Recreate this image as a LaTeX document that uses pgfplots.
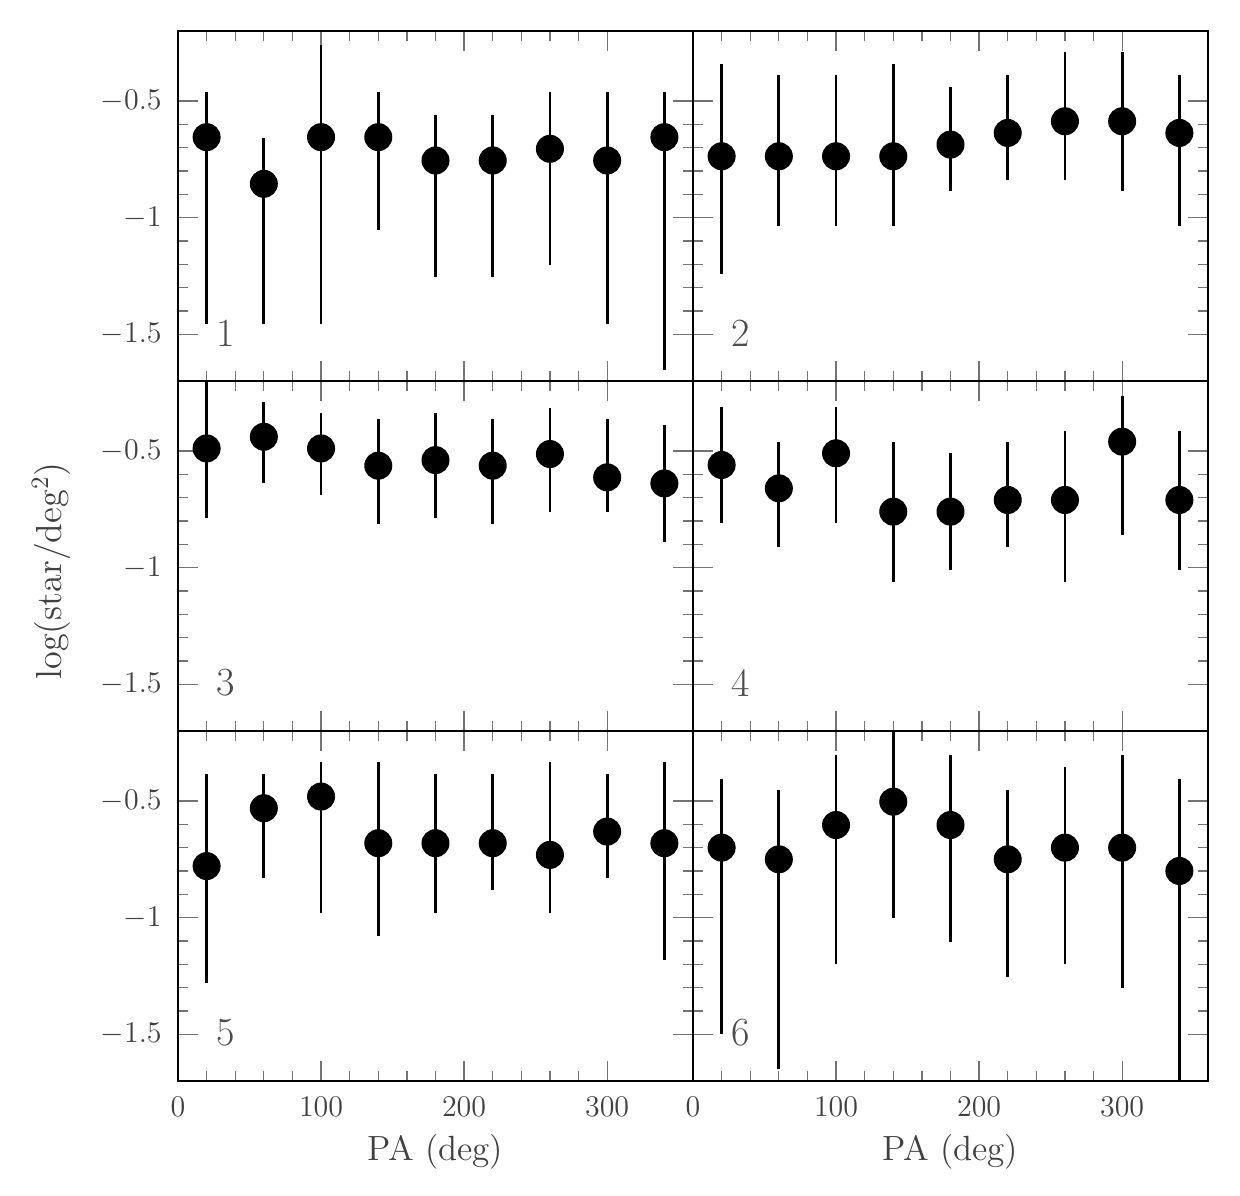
\documentclass[border=0pt]{standalone}
\usepackage{pgfplots}
\usepackage{pgfplotstable}
\pgfplotsset{compat=1.18}

\pgfplotstableread{
x y hi lo
20 -0.655 -0.46 -1.455
60 -0.855 -0.66 -1.455
100 -0.655 -0.26 -1.455
140 -0.655 -0.46 -1.055
180 -0.755 -0.56 -1.255
220 -0.755 -0.56 -1.255
260 -0.705 -0.46 -1.205
300 -0.755 -0.46 -1.455
340 -0.655 -0.46 -1.655
}\dataA
\pgfplotstableread{
x y hi lo
20 -0.737 -0.34 -1.24
60 -0.737 -0.39 -1.037
100 -0.737 -0.39 -1.037
140 -0.737 -0.34 -1.037
180 -0.687 -0.44 -0.887
220 -0.637 -0.39 -0.84
260 -0.587 -0.29 -0.84
300 -0.587 -0.29 -0.887
340 -0.637 -0.39 -1.037
}\dataB
\pgfplotstableread{
x y hi lo
20 -0.489 -0.15 -0.786
60 -0.439 -0.289 -0.639
100 -0.489 -0.339 -0.689
140 -0.563 -0.364 -0.813
180 -0.539 -0.339 -0.786
220 -0.563 -0.364 -0.813
260 -0.513 -0.314 -0.763
300 -0.613 -0.364 -0.763
340 -0.639 -0.389 -0.889
}\dataC
\pgfplotstableread{
x y hi lo
20 -0.56 -0.313 -0.81
60 -0.66 -0.461 -0.91
100 -0.51 -0.313 -0.81
140 -0.76 -0.461 -1.06
180 -0.76 -0.51 -1.01
220 -0.71 -0.461 -0.91
260 -0.71 -0.413 -1.06
300 -0.46 -0.263 -0.86
340 -0.71 -0.413 -1.01
}\dataD
\pgfplotstableread{
x y hi lo
20 -0.779 -0.383 -1.279
60 -0.531 -0.383 -0.829
100 -0.481 -0.333 -0.979
140 -0.681 -0.333 -1.079
180 -0.681 -0.383 -0.979
220 -0.681 -0.383 -0.881
260 -0.731 -0.333 -0.979
300 -0.631 -0.383 -0.829
340 -0.681 -0.333 -1.181
}\dataE
\pgfplotstableread{
x y hi lo
20 -0.70 -0.404 -1.50
60 -0.75 -0.453 -1.65
100 -0.603 -0.303 -1.20
140 -0.503 -0.15 -1.00
180 -0.603 -0.303 -1.103
220 -0.75 -0.453 -1.253
260 -0.70 -0.353 -1.20
300 -0.70 -0.303 -1.30
340 -0.80 -0.404 -1.80
}\dataF

\pgfplotsset{
  panel/.style={
    scale only axis, width=206pt, height=140pt,
    anchor=south west,
    xmin=0, xmax=360, ymin=-1.7, ymax=-0.2,
    xtick={0,100,200,300}, ytick={-1.5,-1,-0.5},
    minor x tick num=4, minor y tick num=4,
    tick align=inside,
    major tick length=8pt, minor tick length=4pt,
    every tick/.style={black!55, line width=0.5pt},
    axis line style={black, line width=0.6pt},
    tick label style={font=\fontsize{13}{15}\selectfont, text=black!75},
    label style={font=\fontsize{14}{16}\selectfont, text=black!75},
    xticklabel style={yshift=-3pt},
    yticklabel style={xshift=-3pt},
    clip=true,
  },
  nox/.style={xticklabels={}},
  noy/.style={yticklabels={}},
  pts/.style={only marks, mark=*, mark size=5.4pt, black,
    mark options={fill=black, draw=black},
    error bars/.cd, y dir=both, y explicit,
    error bar style={line width=1.1pt, black},
    error mark=none},
}

\newcommand{\panel}[2]{%
  \addplot[pts] table[x=x, y=y,
    y error plus expr=\thisrow{hi}-\thisrow{y},
    y error minus expr=\thisrow{y}-\thisrow{lo}] {#1};
  \node[font=\fontsize{16}{18}\selectfont, text=black!70, anchor=center]
    at (rel axis cs:0.093,0.137) {#2};
}

\begin{document}
\begin{tikzpicture}
\path[use as bounding box] (0,0) rectangle (496pt,478.4pt);

\begin{axis}[panel, nox, at={(71.2pt,326pt)}]
\panel{\dataA}{1}
\end{axis}
\begin{axis}[panel, nox, noy, at={(277.2pt,326pt)}]
\panel{\dataB}{2}
\end{axis}
\begin{axis}[panel, nox, at={(71.2pt,186pt)}]
\panel{\dataC}{3}
\end{axis}
\begin{axis}[panel, nox, noy, at={(277.2pt,186pt)}]
\panel{\dataD}{4}
\end{axis}
\begin{axis}[panel, at={(71.2pt,46pt)}, xlabel={PA (deg)}]
\panel{\dataE}{5}
\end{axis}
\begin{axis}[panel, noy, at={(277.2pt,46pt)}, xlabel={PA (deg)}]
\panel{\dataF}{6}
\end{axis}

\node[rotate=90, font=\fontsize{14.5}{16}\selectfont, text=black!75]
  at (20.5pt,250pt) {log(star/deg$^2$)};
\end{tikzpicture}
\end{document}
